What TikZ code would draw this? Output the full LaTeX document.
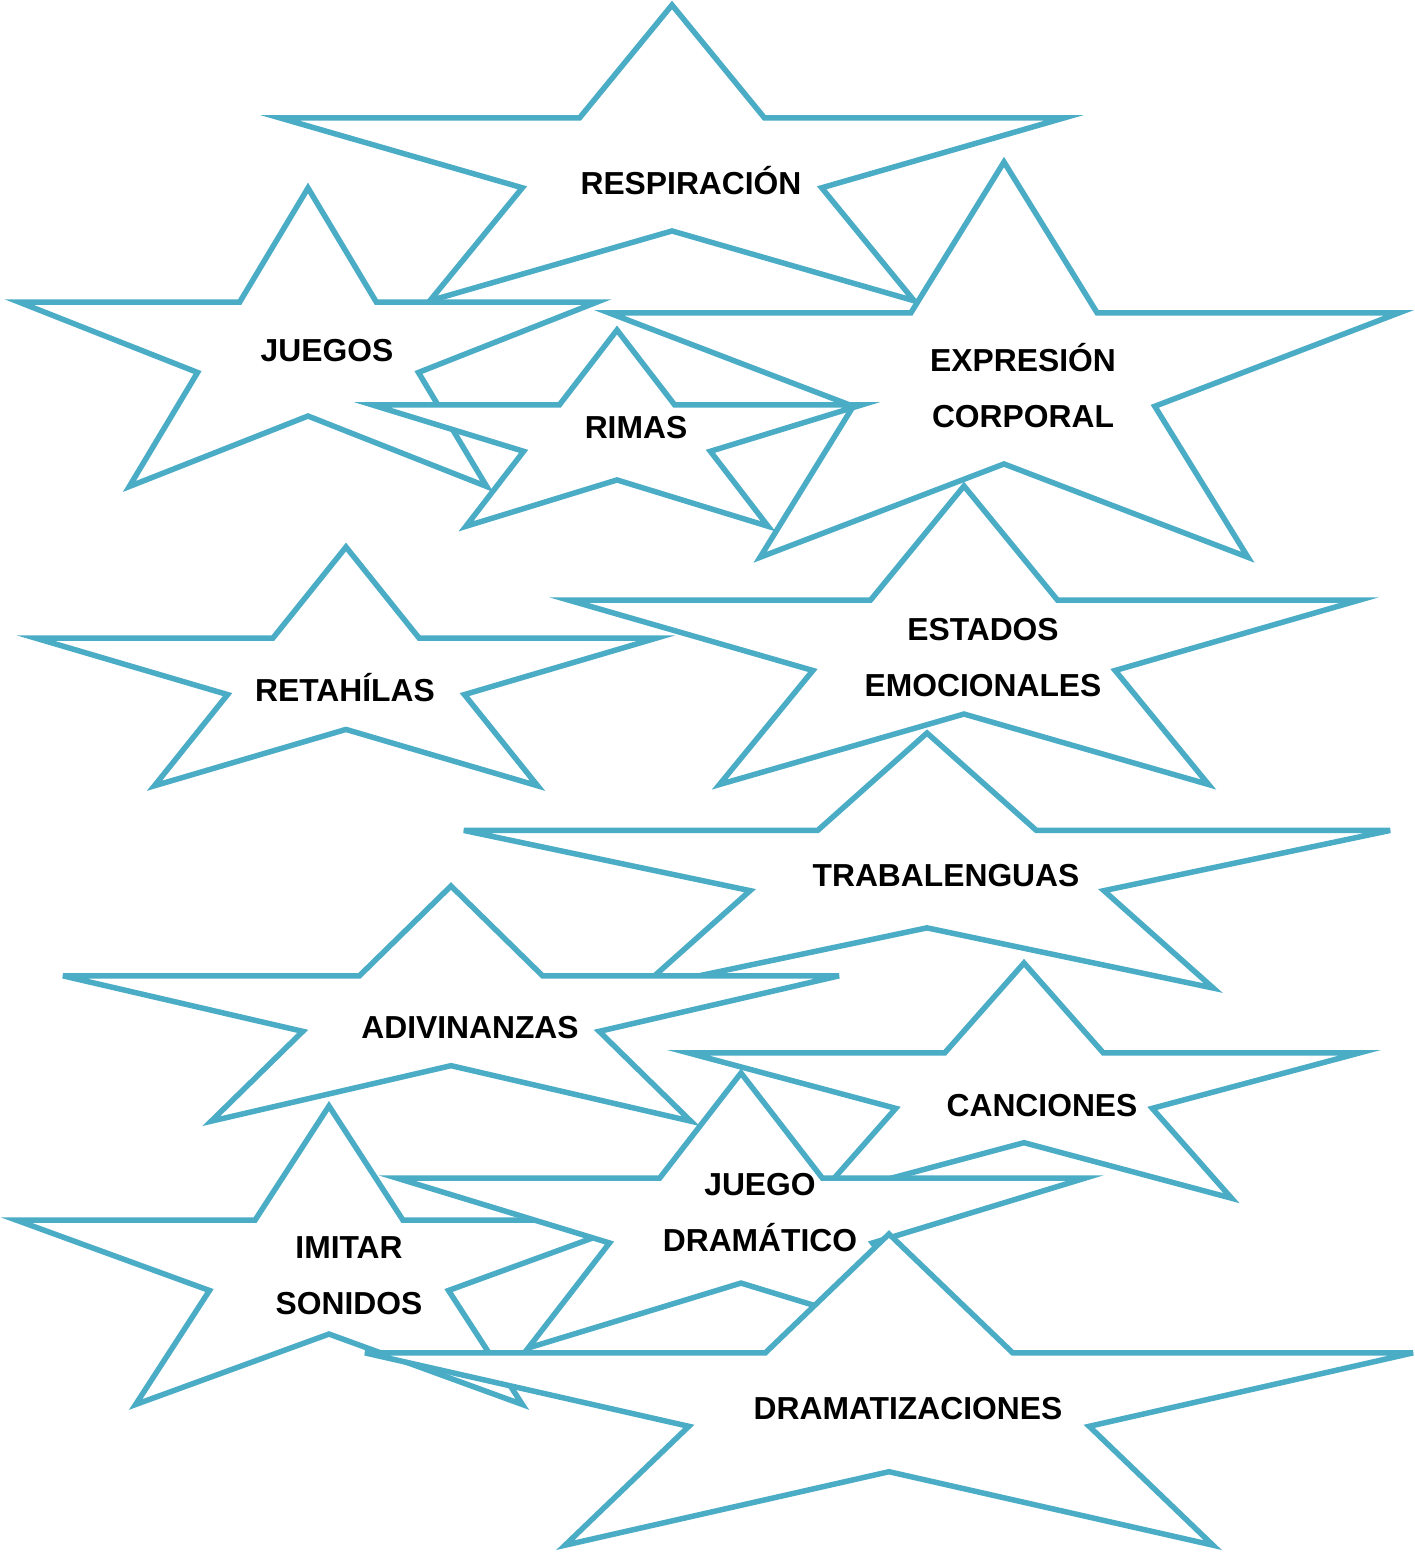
\documentclass[tikz,border=0pt]{standalone}
\usepackage{fontspec}
\setmainfont{Liberation Sans}
\usepackage{xcolor}
\usepackage{tikz}
\definecolor{aguamarina}{HTML}{4BACC6}

% estrella de cinco puntas: centro x, centro y, radio x, radio y
\newcommand{\estrella}[4]{%
  \draw[estrella] ({#1},{#2-#4})
    \foreach \a in {90,162,234,306} {
      -- ({#1+0.382*#3*cos(\a+36)},{#2-0.382*#4*sin(\a+36)})
      -- ({#1+#3*cos(\a+72)},{#2-#4*sin(\a+72)})
    }
    -- ({#1+0.382*#3*cos(54)},{#2-0.382*#4*sin(54)}) -- cycle;}

\begin{document}
\begin{tikzpicture}[
  x=1pt, y=-1pt,
  estrella/.style={draw=aguamarina, fill=white, line width=5.5pt, miter limit=8},
  rotulo/.style={font=\fontsize{31.8}{56}\selectfont\bfseries, align=center,
                 anchor=base, inner sep=0pt}
]
\useasboundingbox (0,0) rectangle (1415,1557);

\estrella{672}{168.5}{412}{163.5}   % respiracion
\estrella{308}{353}{304}{165}       % juegos
\estrella{1004}{380.5}{415}{218.5}  % expresion corporal
\estrella{617}{438.5}{257}{108.5}   % rimas
\estrella{346}{679}{326}{132}       % retahilas
\estrella{964}{651}{416}{165}       % estados emocionales
\estrella{927}{874}{487}{141}       % trabalenguas
\estrella{451}{1016}{408}{130}      % adivinanzas
\estrella{1024}{1093}{353}{130}     % canciones
\estrella{329}{1271}{329}{165}      % imitar sonidos
\estrella{741}{1225}{362}{152}      % juego dramatico
\estrella{889}{1406}{551}{172}      % dramatizaciones

% en los rotulos de dos lineas, la base es la de la ultima linea
\node[rotulo] (respiracion) at (691,195) {RESPIRACIÓN};
\node[rotulo] (juegos) at (327,361) {JUEGOS};
\node[rotulo] (expresion) at (1023,427) {EXPRESIÓN\\CORPORAL};
\node[rotulo] (rimas) at (636,438) {RIMAS};
\node[rotulo] (retahilas) at (345,701) {RETAHÍLAS};
\node[rotulo] (estados) at (983,696) {ESTADOS\\EMOCIONALES};
\node[rotulo] (trabalenguas) at (946,886) {TRABALENGUAS};
\node[rotulo] (adivinanzas) at (470,1038) {ADIVINANZAS};
\node[rotulo] (canciones) at (1042,1116) {CANCIONES};
\node[rotulo] (imitar) at (349,1314) {IMITAR\\SONIDOS};
\node[rotulo] (juegodram) at (760,1251) {JUEGO\\DRAMÁTICO};
\node[rotulo] (dramatizaciones) at (908,1419) {DRAMATIZACIONES};
\end{tikzpicture}
\end{document}
